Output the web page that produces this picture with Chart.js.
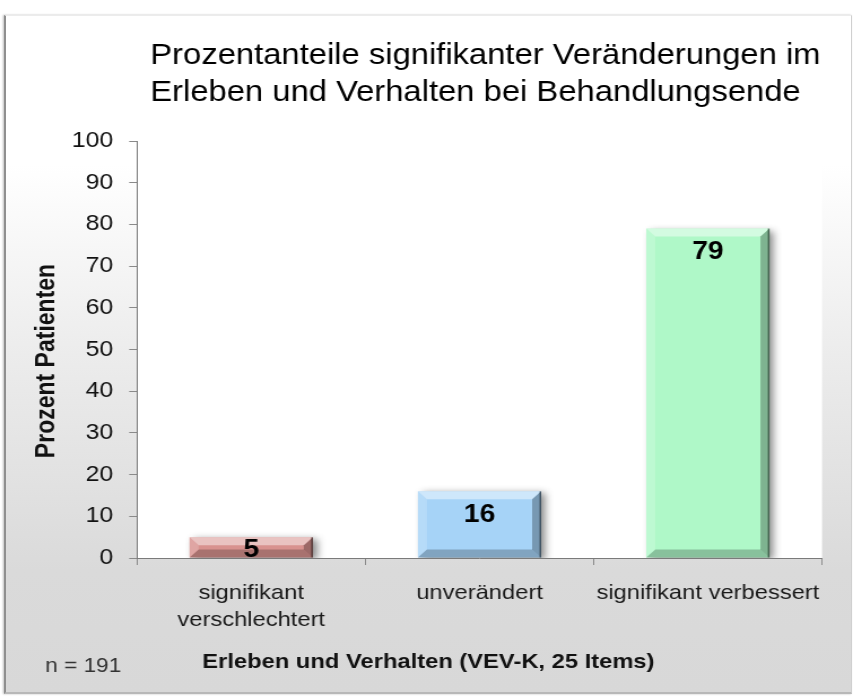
<!DOCTYPE html>
<html>
<head>
<meta charset="utf-8">
<script src="https://cdn.jsdelivr.net/npm/chart.js@4.4.1/dist/chart.umd.min.js"></script>
<style>
  html,body{margin:0;padding:0;background:#fff;}
  #wrap{position:relative;width:853px;height:697px;overflow:hidden;}
  #panel{position:absolute;left:4px;top:15px;width:845px;height:676px;
    background:linear-gradient(to bottom,#ffffff 0%,#ffffff 22%,#ececec 50%,#dadada 82%,#d8d8d8 100%);
    border-left:2px solid #8f8f8f;border-top:1px solid #ececec;border-right:1px solid #d0d0d0;border-bottom:2px solid #b8b8b8;
    box-shadow:-1px 0 2px rgba(0,0,0,0.25);}
  canvas{position:absolute;left:0;top:0;transform-origin:0 0;transform:scaleX(1.1298);}
</style>
</head>
<body>
<div id="wrap">
  <div id="panel"></div>
  <canvas id="c" width="755" height="697"></canvas>
</div>
<script>
const titleLines = ["Prozentanteile signifikanter Veränderungen im", "Erleben und Verhalten bei Behandlungsende"];
const categories = [["signifikant", "verschlechtert"], "unverändert", "signifikant verbessert"];
const values = [5, 16, 79];
const valueLabels = ["5", "16", "79"];
const barColors = ["#d8928f", "#a6d3f7", "#aff8c8"];
const yTitle = "Prozent Patienten";
const xTitle = "Erleben und Verhalten (VEV-K, 25 Items)";
const noteText = "n = 191";
const yMin = 0, yMax = 100, yStep = 10;

const FONT = "'Liberation Sans', Arial, sans-serif";

const decor = {
  id: 'decor',
  beforeDraw(chart) {
    const {ctx, chartArea: a} = chart;
    ctx.save();
    ctx.fillStyle = '#ffffff';
    ctx.fillRect(a.left, a.top, a.right - a.left, a.bottom - a.top);
    ctx.restore();
  },
  beforeDatasetsDraw(chart) {
    const ctx = chart.ctx;
    ctx.save();
    ctx.shadowColor = 'rgba(0,0,0,0.45)';
    ctx.shadowBlur = 7;
    ctx.shadowOffsetX = 4;
    ctx.shadowOffsetY = 2;
  },
  afterDatasetsDraw(chart) {
    const ctx = chart.ctx;
    ctx.restore();
    const meta = chart.getDatasetMeta(0);
    meta.data.forEach((el, i) => {
      const p = el.getProps(['x', 'y', 'base', 'width'], true);
      const l = p.x - p.width / 2, r = p.x + p.width / 2, t = p.y, b = p.base;
      const bv = Math.min(8, (b - t) / 2);
      const poly = (pts, fill) => {
        ctx.beginPath();
        ctx.moveTo(pts[0][0], pts[0][1]);
        for (let k = 1; k < pts.length; k++) ctx.lineTo(pts[k][0], pts[k][1]);
        ctx.closePath();
        ctx.fillStyle = fill;
        ctx.fill();
      };
      ctx.save();
      poly([[l, t], [r, t], [r - bv, t + bv], [l + bv, t + bv]], 'rgba(255,255,255,0.45)');
      poly([[l, t], [l + bv, t + bv], [l + bv, b - bv], [l, b]], 'rgba(255,255,255,0.18)');
      poly([[r, t], [r, b], [r - bv, b - bv], [r - bv, t + bv]], 'rgba(0,0,0,0.28)');
      poly([[l, b], [r, b], [r - bv, b - bv], [l + bv, b - bv]], 'rgba(0,0,0,0.22)');
      ctx.strokeStyle = 'rgba(0,0,0,0.45)';
      ctx.lineWidth = 1.5;
      ctx.beginPath();
      ctx.moveTo(r - 0.75, t); ctx.lineTo(r - 0.75, b);
      ctx.stroke();
      ctx.fillStyle = '#000';
      ctx.font = "bold 25px " + FONT;
      ctx.textAlign = 'center';
      ctx.textBaseline = 'middle';
      const ly = Math.min(t + 24, b - 7);
      ctx.fillText(valueLabels[i], p.x, ly);
      ctx.restore();
    });
  },
  afterDraw(chart) {
    const ctx = chart.ctx;
    ctx.save();
    ctx.fillStyle = '#000';
    ctx.textAlign = 'left';
    ctx.textBaseline = 'alphabetic';
    ctx.font = "29px " + FONT;
    ctx.fillText(titleLines[0], 133, 63.5);
    ctx.fillText(titleLines[1], 133, 100.5);
    ctx.save();
    ctx.translate(41.6, 361);
    ctx.rotate(-Math.PI / 2);
    ctx.font = "bold 23px " + FONT;
    ctx.textAlign = 'center';
    ctx.textBaseline = 'middle';
    ctx.fillStyle = '#111';
    ctx.fillText(yTitle, 0, 0);
    ctx.restore();
    ctx.font = "bold 21px " + FONT;
    ctx.fillStyle = '#111';
    ctx.textAlign = 'left';
    ctx.fillText(xTitle, 179, 668);
    ctx.font = "20px " + FONT;
    ctx.fillStyle = '#333';
    ctx.fillText(noteText, 40, 672);
    ctx.restore();
  }
};

new Chart(document.getElementById('c'), {
  type: 'bar',
  data: {
    labels: categories,
    datasets: [{
      data: values,
      backgroundColor: barColors,
      borderWidth: 0,
      barPercentage: 0.54,
      categoryPercentage: 1.0
    }]
  },
  options: {
    responsive: false,
    animation: false,
    devicePixelRatio: 1,
    layout: {padding: {top: 141, left: 0, right: 27.4, bottom: 0}},
    plugins: {legend: {display: false}, tooltip: {enabled: false}, title: {display: false}},
    scales: {
      x: {
        grid: {drawOnChartArea: false, tickLength: 7, color: '#8a8a8a', offset: true},
        border: {color: '#7a7a7a', width: 1},
        ticks: {color: '#1a1a1a', padding: 15, font: {family: FONT, size: 21, lineHeight: 1.29}, maxRotation: 0, autoSkip: false},
        afterFit: s => { s.height = 139; }
      },
      y: {
        min: yMin, max: yMax,
        grid: {drawOnChartArea: false, tickLength: 7, color: '#8a8a8a'},
        border: {color: '#7a7a7a', width: 1},
        ticks: {stepSize: yStep, color: '#111', padding: 14, font: {family: FONT, size: 22}},
        afterFit: s => { s.width = 121.3; }
      }
    }
  },
  plugins: [decor]
});
</script>
</body>
</html>
